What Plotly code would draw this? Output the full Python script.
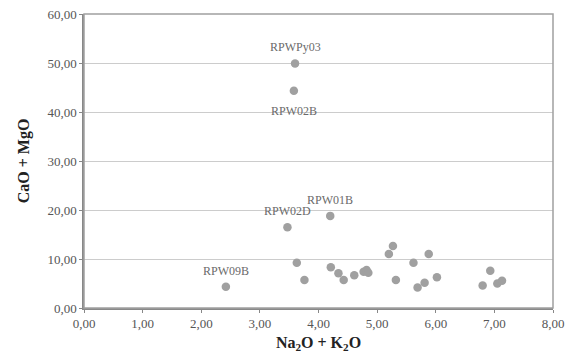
import plotly.graph_objects as go

# Data (Na2O+K2O vs CaO+MgO)
na2o_k2o = [3.60, 3.58, 3.47, 4.20, 2.42, 3.63, 3.76, 4.21, 4.34, 4.43, 4.61, 4.77, 4.82, 4.85,
            5.20, 5.27, 5.32, 5.62, 5.69, 5.81, 5.88, 6.02, 6.80, 6.93, 7.05, 7.13]
cao_mgo = [49.9, 44.35, 16.5, 18.8, 4.35, 9.25, 5.7, 8.3, 7.1, 5.7, 6.7, 7.4, 7.75, 7.2,
           11.0, 12.65, 5.7, 9.25, 4.2, 5.17, 11.0, 6.26, 4.6, 7.6, 5.0, 5.57]
# labelled samples = first five points
sample_labels = ["RPWPy03", "RPW02B", "RPW02D", "RPW01B", "RPW09B"]
label_above = [True, False, True, True, True]

x_tickvals = [0, 1, 2, 3, 4, 5, 6, 7, 8]
x_ticktext = ["0,00", "1,00", "2,00", "3,00", "4,00", "5,00", "6,00", "7,00", "8,00"]
y_tickvals = [0, 10, 20, 30, 40, 50, 60]
y_ticktext = ["0,00", "10,00", "20,00", "30,00", "40,00", "50,00", "60,00"]

serif = "Liberation Serif"

fig = go.Figure()
fig.add_trace(go.Scatter(
    x=na2o_k2o, y=cao_mgo, mode="markers",
    marker=dict(size=8.5, color="#a0a0a0", line=dict(width=0)),
    showlegend=False, cliponaxis=False, hoverinfo="skip",
))

annotations = []
for i, lab in enumerate(sample_labels):
    annotations.append(dict(
        x=na2o_k2o[i], y=cao_mgo[i], xref="x", yref="y", text=lab, showarrow=False,
        yshift=16 if label_above[i] else -20,
        font=dict(family=serif, size=12, color="#6a6a6a"),
    ))

fig.update_layout(
    width=565, height=357,
    margin=dict(l=84, r=12, t=14, b=49),
    paper_bgcolor="white", plot_bgcolor="white",
    font=dict(family=serif),
    annotations=annotations,
    shapes=[dict(type="rect", xref="paper", yref="paper", x0=0, y0=0, x1=1, y1=1,
                 line=dict(color="#a0a0a0", width=1.5), layer="above")],
)
fig.update_xaxes(
    range=[0, 8], tickvals=x_tickvals, ticktext=x_ticktext, automargin=False,
    ticklabeloverflow="allow",
    showgrid=False, zeroline=False,
    showline=True, linecolor="#888888", linewidth=1.5,
    ticks="outside", ticklen=3, tickcolor="#888888",
    tickfont=dict(family=serif, size=13, color="#555555"),
    title=dict(text="<b>Na<sub>2</sub>O + K<sub>2</sub>O</b>",
               font=dict(family=serif, size=16, color="#222222"), standoff=6),
)
fig.update_yaxes(
    range=[0, 60], tickvals=y_tickvals, ticktext=y_ticktext, automargin=False,
    ticklabeloverflow="allow",
    showgrid=True, gridcolor="#cccccc", gridwidth=1, zeroline=False,
    showline=True, linecolor="#888888", linewidth=1.5,
    ticks="outside", ticklen=3, tickcolor="#888888",
    tickfont=dict(family=serif, size=13, color="#555555"),
    title=dict(text="<b>CaO + MgO</b>",
               font=dict(family=serif, size=16, color="#222222"), standoff=14),
)

fig.write_html("out.html", config={"displayModeBar": False},
               post_script="document.body.style.margin='0';document.body.style.overflow='hidden';")
